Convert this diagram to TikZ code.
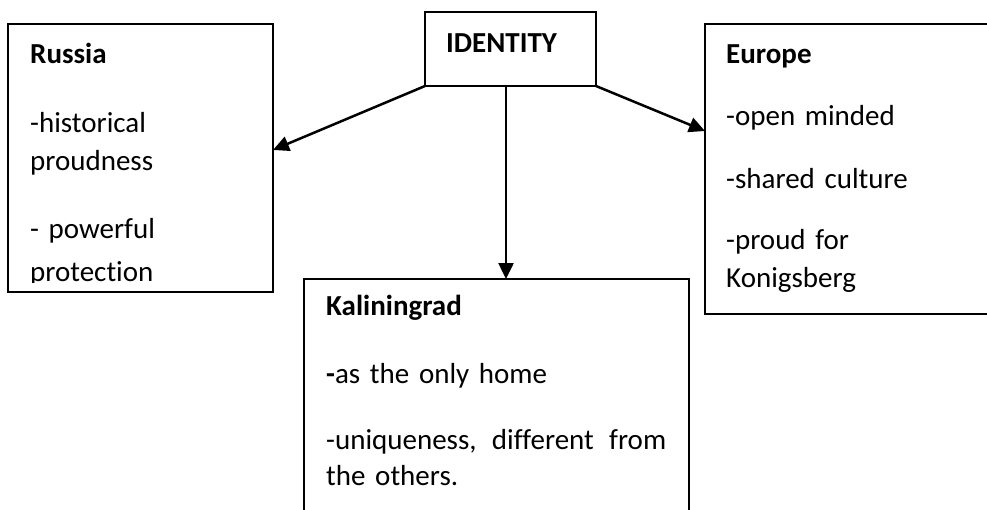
\documentclass[tikz,border=0pt]{standalone}
\usepackage{fontspec}
\setmainfont{Carlito}[Ligatures={TeX,NoCommon}]
\usetikzlibrary{arrows.meta,calc}

\begin{document}
\begin{tikzpicture}[
    x=1pt, y=-1pt, % 以像素為單位, y 向下
    >={Triangle[length=16pt, width=15pt]},
    box/.style={draw, line width=1.4pt, inner sep=0pt, outer sep=0pt, anchor=north west},
    txt/.style={inner sep=0pt, anchor=base west, font=\fontsize{29}{38}\selectfont},
    link/.style={->, line width=2.5pt}
]

    % --- 1. 畫布 ---
    \useasboundingbox (0,0) rectangle (987,509);
    \fill[white] (0,0) rectangle (987,509);
    \clip (0,0) rectangle (987,509);

    % --- 2. 方框 ---
    \node[box, minimum width=171, minimum height=74] (identity) at (425,12) {};
    \node[box, minimum width=265, minimum height=268] (russia) at (8,24) {};
    \node[box, minimum width=300, minimum height=290] (europe) at (705,24) {}; % 右邊超出畫面
    \node[box, minimum width=385, minimum height=260] (kaliningrad) at (304,279) {}; % 下邊超出畫面

    % --- 3. 文字 ---
    \node[txt] (identitytext) at (446,52) {\textbf{IDENTITY}};

    % Russia 的文字在框底被裁掉
    \begin{scope}
        \clip (russia.north west) rectangle ([yshift=9.5pt]russia.south east);
        \node[txt, text width=240] (russiatext) at (30,63)
            {\textbf{Russia}\\[31pt]-historical\\proudness\\[30pt]- powerful\\[5pt]protection};
    \end{scope}

    \node[txt, text width=250] (europetext) at (726,63)
        {\textbf{Europe}\\[24pt]-open minded\\[25pt]-shared culture\\[23pt]-proud for\\Konigsberg};

    \node[txt, text width=340] (kaliningradtext) at (326,315)
        {\textbf{Kaliningrad}\\[30pt]\textbf{-}as the only home\\[28pt]-uniqueness, \hfill different \hfill from\\[-2pt]the others.};

    % --- 4. 箭頭 ---
    \draw[link] (identity.south west) -- ($(russia.north east)!0.47!(russia.south east)$);
    \draw[link] (identity.south east) -- ($(europe.north west)!0.369!(europe.south west)$);
    \draw[link] ([xshift=-4.5pt]identity.south) -- ([xshift=-4.5pt]identity.south |- kaliningrad.north);

\end{tikzpicture}
\end{document}
